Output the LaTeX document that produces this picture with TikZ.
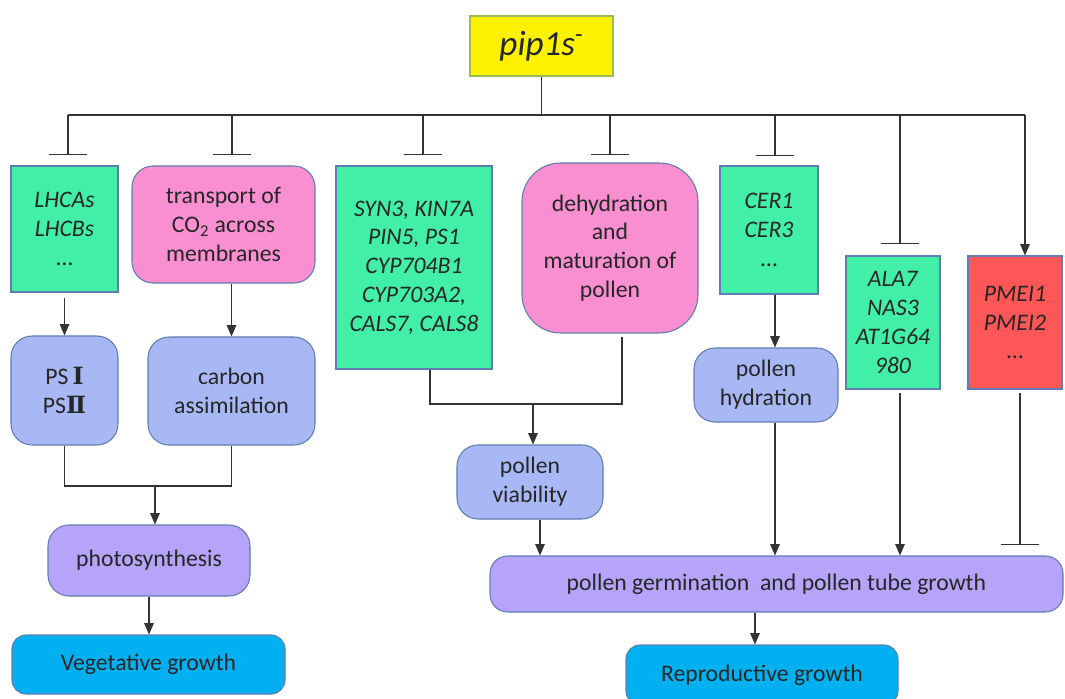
\documentclass[tikz,border=0pt]{standalone}
\usepackage{fontspec}
\setmainfont{Carlito}
\newfontfamily\romfont{DejaVu Serif}
\usetikzlibrary{arrows.meta, positioning}

\definecolor{genegreen}{RGB}{66,239,167}
\definecolor{procpink}{RGB}{249,142,208}
\definecolor{effblue}{RGB}{168,184,245}
\definecolor{mainpurple}{RGB}{181,164,250}
\definecolor{growcyan}{RGB}{0,176,240}
\definecolor{pmeired}{RGB}{255,87,87}
\definecolor{edgeblue}{RGB}{95,125,175}
\definecolor{pipedge}{RGB}{155,187,89}

\begin{document}
\begin{tikzpicture}[line width=0.6pt,
    every node/.style={font=\fontsize{13.5}{16.4}\selectfont, text=black!85, align=center, inner sep=0pt},
    box/.style={draw=edgeblue, fill=#1},
    rbox/.style={draw=edgeblue, fill=#1, rounded corners=12pt},
    act/.style={-{Triangle[width=5.5pt,length=6.5pt]}, black!80},
    inh/.style={-{Bar[width=22pt]}, black!80}]

    \clip (0,0) rectangle (21.3,-13.98);

    % Mutant
    \node[box=yellow, draw=pipedge, minimum width=2.86cm, minimum height=1.2cm,
          font=\fontsize{20}{24}\selectfont] (pip) at (10.83,-0.92) {\textit{pip1s}\textsuperscript{-}};

    % First row
    \node[box=genegreen, minimum width=2.14cm, minimum height=2.52cm] (lhc) at (1.29,-4.58)
        {\textit{LHCAs}\\\textit{LHCBs}\\…};
    \node[rbox=procpink, minimum width=3.66cm, minimum height=2.34cm] (trans) at (4.47,-4.49)
        {transport of\\CO\textsubscript{2} across\\membranes};
    \node[box=genegreen, minimum width=3.12cm, minimum height=4.06cm] (syn) at (8.28,-5.35)
        {\textit{SYN3, KIN7A}\\\textit{PIN5, PS1}\\\textit{CYP704B1}\\\textit{CYP703A2,}\\\textit{CALS7, CALS8}};
    \node[rbox=procpink, rounded corners=22pt, minimum width=3.52cm, minimum height=3.4cm] (dehyd) at (12.2,-4.96)
        {dehydration\\and\\maturation of\\pollen};
    \node[box=genegreen, minimum width=1.96cm, minimum height=2.56cm] (cer) at (15.38,-4.6)
        {\textit{CER1}\\\textit{CER3}\\…};
    \node[box=genegreen, minimum width=1.88cm, minimum height=2.66cm] (ala) at (17.86,-6.45)
        {\textit{ALA7}\\\textit{NAS3}\\\textit{AT1G64}\\\textit{980}};
    \node[box=pmeired, minimum width=1.88cm, minimum height=2.66cm] (pmei) at (20.3,-6.45)
        {\textit{PMEI1}\\\textit{PMEI2}\\…};

    % Second row
    \node[rbox=effblue, minimum width=2.14cm, minimum height=2.18cm] (ps) at (1.29,-7.81)
        {PS\,{\romfont\bfseries Ⅰ}\\PS{\romfont\bfseries Ⅱ}};
    \node[rbox=effblue, minimum width=3.34cm, minimum height=2.16cm] (carb) at (4.63,-7.82)
        {carbon\\assimilation};
    \node[rbox=effblue, minimum width=2.88cm, minimum height=1.48cm] (hyd) at (15.32,-7.7)
        {pollen\\hydration};
    \node[rbox=effblue, minimum width=2.92cm, minimum height=1.48cm] (via) at (10.6,-9.64)
        {pollen\\viability};

    % Processes and growth
    \node[rbox=mainpurple, minimum width=4.04cm, minimum height=1.42cm] (photo) at (2.98,-11.21)
        {photosynthesis};
    \node[rbox=growcyan, rounded corners=8pt, minimum width=5.46cm, minimum height=1.18cm] (veg) at (2.97,-13.29)
        {Vegetative growth};
    \node[rbox=mainpurple, rounded corners=10pt, minimum width=11.46cm, minimum height=1.12cm] (germ) at (15.53,-11.68)
        {pollen germination~ and pollen tube growth};
    \node[rbox=growcyan, rounded corners=8pt, minimum width=5.44cm, minimum height=1.2cm] (repro) at (15.24,-13.5)
        {Reproductive growth};

    % Bus from the mutant
    \coordinate (b1) at (1.36,-2.3);
    \coordinate (b2) at (4.64,-2.3);
    \coordinate (b3) at (8.46,-2.3);
    \coordinate (b4) at (12.2,-2.3);
    \coordinate (b5) at (15.5,-2.3);
    \coordinate (b6) at (18.0,-2.3);
    \coordinate (b7) at (20.5,-2.3);
    \draw[black!80] (pip.south) -- (pip.south |- b1);
    \draw[black!80] (b1) -- (b7);
    \draw[inh, shorten >=0.2cm] (b1) -- (b1 |- lhc.north);
    \draw[inh, shorten >=0.2cm] (b2) -- (b2 |- trans.north);
    \draw[inh, shorten >=0.2cm] (b3) -- (b3 |- syn.north);
    \draw[inh, shorten >=0.14cm] (b4) -- (b4 |- dehyd.north);
    \draw[inh, shorten >=0.18cm] (b5) -- (b5 |- cer.north);
    \draw[inh, shorten >=0.22cm] (b6) -- (b6 |- ala.north);
    \draw[act] (b7) -- (b7 |- pmei.north);

    % Vegetative side
    \draw[act, shorten <=0.1cm] (lhc.south) -- (ps.north);
    \draw[act] (trans.south -| carb.north) -- (carb.north);
    \coordinate (join1) at (3.1,-9.72);
    \draw[black!80] (ps.south) |- (join1) -| (carb.south);
    \draw[act] (join1) -- (join1 |- photo.north);
    \draw[act] (photo.south) -- (photo.south |- veg.north);

    % Reproductive side
    \coordinate (join2) at (10.66,-8.08);
    \draw[black!80] ([xshift=0.32cm]syn.south) |- (join2) -| ([xshift=0.24cm, yshift=-0.06cm]dehyd.south);
    \draw[act] (join2) -- (join2 |- via.north);
    \draw[act] ([xshift=0.2cm]via.south) -- ([xshift=0.2cm]via.south |- germ.north);
    \draw[act] (cer.south -| b5) -- (hyd.north -| b5);
    \draw[act] (hyd.south -| b5) -- (germ.north -| b5);
    \draw[act, shorten <=0.06cm] (ala.south -| b6) -- (germ.north -| b6);
    \draw[inh, shorten <=0.06cm, shorten >=0.2cm] ([xshift=0.1cm]pmei.south) -- ([xshift=0.1cm]pmei.south |- germ.north);
    \draw[act] ([xshift=-0.14cm]repro.north |- germ.south) -- ([xshift=-0.14cm]repro.north);
\end{tikzpicture}
\end{document}
